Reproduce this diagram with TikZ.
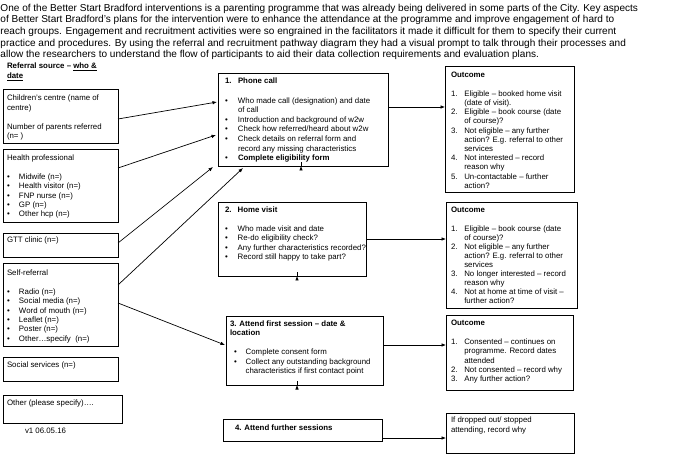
\documentclass[tikz,border=0pt]{standalone}
\usepackage{fontspec}
\setmainfont{Liberation Sans}
\usetikzlibrary{arrows.meta,calc}
\newcommand\bul{\textbullet}
\begin{document}
\begin{tikzpicture}[x=1pt,y=-1pt,
  box/.style={draw=black,line width=0.7pt,anchor=north west,inner sep=0pt,outer sep=0pt},
  txt/.style={anchor=north west,inner sep=0pt,outer sep=0pt,align=left},
  conn/.style={line width=0.7pt,-{Latex[length=4.5pt,width=3.6pt]}}]
\useasboundingbox (0,0) rectangle (685,454);

% intro paragraph
\node[txt,font=\fontsize{10.05}{11.6}\selectfont] (intro) at (0.5,3.2) {\begin{tabular}{@{}l@{}}
One of the Better Start Bradford interventions is a parenting programme that was already being delivered in some parts of the City. Key aspects\\
of Better Start Bradford’s plans for the intervention were to enhance the attendance at the programme and improve engagement of hard to\\
reach groups. Engagement and recruitment activities were so engrained in the facilitators it made it difficult for them to specify their current\\
practice and procedures. By using the referral and recruitment pathway diagram they had a visual prompt to talk through their processes and\\
allow the researchers to understand the flow of participants to aid their data collection requirements and evaluation plans.
\end{tabular}};

% referral header
\node[txt,font=\fontsize{7.85}{10.3}\selectfont\bfseries] (refhead) at (7,61.4) {\begin{tabular}{@{}l@{}}
Referral source – \underline{who \&}\\
\underline{date}
\end{tabular}};

% referral boxes
\node[box,minimum width=115pt,minimum height=54pt] (cc) at (3,89) {};
\node[txt,font=\fontsize{7.85}{9.4}\selectfont] (cct) at (7,94.4) {\begin{tabular}{@{}l@{}}
Children’s centre (name of\\ centre)\\ \\ Number of parents referred\\ (n= )
\end{tabular}};

\node[box,minimum width=115pt,minimum height=73pt] (hp) at (3,149) {};
\node[txt,font=\fontsize{7.85}{9.45}\selectfont] (hpt) at (7,153.6) {\begin{tabular}{@{}p{12pt}@{}l@{}}
\multicolumn{2}{@{}l@{}}{Health professional}\\ & \\
\bul & Midwife (n=)\\
\bul & Health visitor (n=)\\
\bul & FNP nurse (n=)\\
\bul & GP (n=)\\
\bul & Other hcp (n=)
\end{tabular}};

\node[box,minimum width=115pt,minimum height=24pt] (gtt) at (3,233) {};
\node[txt,font=\fontsize{7.85}{9.4}\selectfont] (gttt) at (7,237.3) {GTT clinic (n=)};

\node[box,minimum width=115pt,minimum height=83pt] (self) at (3,263) {};
\node[txt,font=\fontsize{7.85}{9.45}\selectfont] (selft) at (7,268.6) {\begin{tabular}{@{}p{12pt}@{}l@{}}
\multicolumn{2}{@{}l@{}}{Self-referral}\\ & \\
\bul & Radio (n=)\\
\bul & Social media (n=)\\
\bul & Word of mouth (n=)\\
\bul & Leaflet (n=)\\
\bul & Poster (n=)\\
\bul & Other…specify\ \ (n=)
\end{tabular}};

\node[box,minimum width=115pt,minimum height=24pt] (soc) at (3,357) {};
\node[txt,font=\fontsize{7.85}{9.4}\selectfont] (soct) at (7,362.3) {Social services (n=)};

\node[box,minimum width=119pt,minimum height=28pt] (oth) at (3,395) {};
\node[txt,font=\fontsize{7.85}{9.4}\selectfont] (otht) at (7,400.3) {Other (please specify)….};

\node[txt,font=\fontsize{7.85}{9.4}\selectfont] (ver) at (25,428.3) {v1 06.05.16};

% middle column
\node[box,minimum width=170pt,minimum height=93pt] (phone) at (218,73) {};
\node[txt,font=\fontsize{7.85}{9.6}\selectfont] (phonet) at (225,77.2) {\begin{tabular}{@{}p{13pt}@{}l@{}}
\bfseries 1. & \bfseries Phone call\\ & \\
\bul & Who made call (designation) and date\\
 & of call\\
\bul & Introduction and background of w2w\\
\bul & Check how referred/heard about w2w\\
\bul & Check details on referral form and\\
 & record any missing characteristics\\
\bul & \bfseries Complete eligibility form
\end{tabular}};

\node[box,minimum width=148pt,minimum height=74pt] (home) at (218,202) {};
\node[txt,font=\fontsize{7.85}{9.3}\selectfont] (homet) at (225,206.4) {\begin{tabular}{@{}p{12.7pt}@{}l@{}}
\bfseries 2. & \bfseries Home visit\\ & \\
\bul & Who made visit and date\\
\bul & Re-do eligibility check?\\
\bul & Any further characteristics recorded?\\
\bul & Record still happy to take part?
\end{tabular}};

\node[box,minimum width=157pt,minimum height=69pt] (first) at (226,316) {};
\node[txt,font=\fontsize{7.85}{9.5}\selectfont] (firstt) at (230,319.5) {\begin{tabular}{@{}p{15.7pt}@{}l@{}}
\multicolumn{2}{@{}l@{}}{\bfseries 3. Attend first session – date \&}\\
\multicolumn{2}{@{}l@{}}{\bfseries location}\\ & \\
\hspace*{4pt}\bul & Complete consent form\\
\hspace*{4pt}\bul & Collect any outstanding background\\
 & characteristics if first contact point
\end{tabular}};

\node[box,minimum width=159pt,minimum height=22pt] (further) at (223,419) {};
\node[txt,font=\fontsize{7.85}{9.4}\selectfont\bfseries] (furthert) at (235,424.6) {4. Attend further sessions};

% outcome column
\node[box,minimum width=129pt,minimum height=126pt] (out1) at (445,66) {};
\node[txt,font=\fontsize{7.85}{9.2}\selectfont] (out1t) at (451,71.4) {\begin{tabular}{@{}p{13.3pt}@{}l@{}}
\multicolumn{2}{@{}l@{}}{\bfseries Outcome}\\ & \\
1. & Eligible – booked home visit\\
 & (date of visit).\\
2. & Eligible – book course (date\\
 & of course)?\\
3. & Not eligible – any further\\
 & action? E.g. referral to other\\
 & services\\
4. & Not interested – record\\
 & reason why\\
5. & Un-contactable – further\\
 & action?
\end{tabular}};

\node[box,minimum width=131pt,minimum height=106pt] (out2) at (446,202) {};
\node[txt,font=\fontsize{7.85}{9.1}\selectfont] (out2t) at (451,206.5) {\begin{tabular}{@{}p{13.3pt}@{}l@{}}
\multicolumn{2}{@{}l@{}}{\bfseries Outcome}\\ & \\
1. & Eligible – book course (date\\
 & of course)?\\
2. & Not eligible – any further\\
 & action? E.g. referral to other\\
 & services\\
3. & No longer interested – record\\
 & reason why\\
4. & Not at home at time of visit –\\
 & further action?
\end{tabular}};

\node[box,minimum width=127pt,minimum height=75pt] (out3) at (446,315) {};
\node[txt,font=\fontsize{7.85}{9.35}\selectfont] (out3t) at (451,319.3) {\begin{tabular}{@{}p{13.3pt}@{}l@{}}
\multicolumn{2}{@{}l@{}}{\bfseries Outcome}\\ & \\
1. & Consented – continues on\\
 & programme. Record dates\\
 & attended\\
2. & Not consented – record why\\
3. & Any further action?
\end{tabular}};

\node[box,minimum width=128pt,minimum height=40pt] (out4) at (446,413) {};
\node[txt,font=\fontsize{7.85}{9.3}\selectfont] (out4t) at (451,416.3) {\begin{tabular}{@{}l@{}}
If dropped out/ stopped\\ attending, record why
\end{tabular}};

% connectors: referral sources to steps
\draw[conn] ($(cc.east)+(0,3)$) -- ($(phone.west)+(-1,-17.5)$);
\draw[conn] ($(hp.east)+(0,-17.5)$) -- ($(phone.west)+(-2,15.5)$);
\draw[conn] ($(gtt.east)+(0,-2)$) -- ($(phone.south west)+(-5,1)$);
\draw[conn] ($(self.east)+(0,-19.5)$) -- ($(phone.south west)+(25,2)$);
\draw[conn] ($(self.east)+(0,-1.5)$) -- ($(first.west)+(-1,-5.5)$);

% steps to outcomes
\draw[conn] ($(phone.east)+(0,-12.5)$) -- ($(out1.west)+(0,-22)$);
\draw[conn] (home.east) -- ($(out2.west)+(0,-16)$);
\draw[conn] ($(first.east)+(0,-5.5)$) -- ($(out3.west)+(0,-7.5)$);
\draw[conn] ($(further.east)+(0,8)$) -- ($(out4.west)+(0,5)$);

% steps downward
\draw[conn] ($(phone.south)+(-2,0)$) -- ($(phone.south)+(-2,0)$ |- home.north);
\draw[conn] ($(home.south)+(5,0)$) -- ($(home.south)+(5,0)$ |- first.north);
\draw[conn] ($(first.south)+(-7.5,0)$) -- ($(first.south)+(-7.5,0)$ |- further.north);
\end{tikzpicture}
\end{document}
